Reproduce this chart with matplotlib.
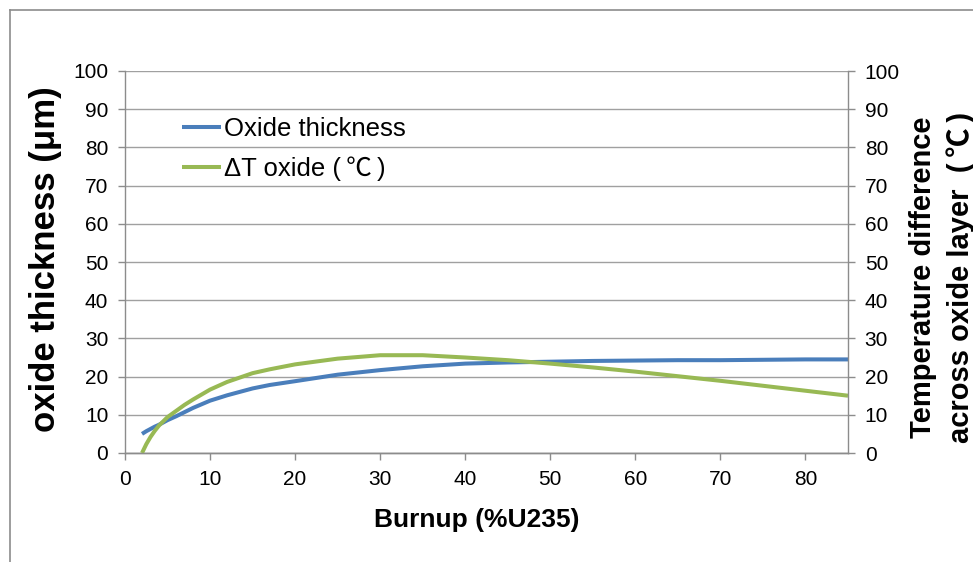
import matplotlib
matplotlib.use("Agg")
import matplotlib.pyplot as plt
from matplotlib.lines import Line2D
import numpy as np

plt.rcParams['font.family'] = ['Liberation Sans', 'Noto Sans CJK SC', 'DejaVu Sans']

# data
burnup = [2, 2.5, 3, 3.5, 4, 5, 6, 7, 8, 10, 12, 15, 17, 20, 25, 30, 35, 40, 45, 50, 55, 60, 65, 70, 75, 80, 85]
oxide_thickness = [5.0, 5.7, 6.3, 6.9, 7.4, 8.6, 9.6, 10.7, 11.8, 13.7, 15.1, 16.9, 17.8, 18.8, 20.5, 21.7,
                   22.7, 23.4, 23.7, 23.9, 24.1, 24.2, 24.3, 24.3, 24.4, 24.5, 24.5]
delta_t_oxide = [0.0, 2.3, 4.2, 5.8, 7.2, 9.4, 11.0, 12.6, 14.0, 16.6, 18.6, 20.9, 21.9, 23.2, 24.7, 25.6,
                 25.6, 25.0, 24.3, 23.4, 22.4, 21.3, 20.1, 18.9, 17.6, 16.3, 15.0]
x_ticks = [0, 10, 20, 30, 40, 50, 60, 70, 80]
y_ticks = [0, 10, 20, 30, 40, 50, 60, 70, 80, 90, 100]

blue = '#4a7ebb'
green = '#98b954'
grey = '#8c8c8c'

W, H = 973, 562
fig = plt.figure(figsize=(W / 100, H / 100), dpi=100)
ax1 = fig.add_axes([125 / W, 1 - 453 / H, 723 / W, 382 / H])
ax2 = ax1.twinx()

l1, = ax1.plot(burnup, oxide_thickness, color=blue, linewidth=2.9, solid_capstyle='butt')
l2, = ax2.plot(burnup, delta_t_oxide, color=green, linewidth=2.9, solid_capstyle='butt')

for ax in (ax1, ax2):
    ax.set_xlim(0, 85)
    ax.set_ylim(0, 100)
    ax.set_yticks(y_ticks)
    ax.spines['top'].set_visible(False)
    for s in ('left', 'right', 'bottom'):
        ax.spines[s].set_color(grey)
        ax.spines[s].set_linewidth(1.0)
    ax.tick_params(axis='both', direction='out', length=5, width=1.0, color=grey,
                   labelsize=15, pad=7, labelcolor='black')
ax1.set_xticks(x_ticks)
ax1.yaxis.grid(True, color='#a0a0a0', linewidth=1.0)
ax1.set_axisbelow(True)
ax2.spines['left'].set_visible(False)
ax1.spines['right'].set_visible(False)

fig.text(46 / W, 1 - 259 / H, 'oxide thickness (μm)', rotation=90, ha='center', va='center',
         fontsize=25, fontweight='bold')
fig.text(942 / W, 1 - 277 / H, 'Temperature difference\nacross oxide layer  (\u2009℃\u2009)', rotation=90,
         ha='center', va='center', fontsize=21, fontweight='bold', linespacing=1.38)
fig.text(477 / W, 1 - 520 / H, 'Burnup (%U235)', ha='center', va='center',
         fontsize=19, fontweight='bold')

ax1.legend([l1, l2], ['Oxide thickness', 'ΔT oxide (\u2009℃\u2009)'], loc='upper left',
           bbox_to_anchor=(182 / W, 1 - 117 / H), bbox_transform=fig.transFigure,
           frameon=False, fontsize=18.5, handlelength=1.5, handletextpad=0.15,
           labelspacing=0.6, borderpad=0, borderaxespad=0)

# outer chart border (only top and left visible in the crop)
fig.add_artist(Line2D([10 / W, 10 / W], [0, 1 - 10 / H], transform=fig.transFigure, color=grey, linewidth=1.2))
fig.add_artist(Line2D([10 / W, 1], [1 - 10 / H, 1 - 10 / H], transform=fig.transFigure, color=grey, linewidth=1.2))

fig.savefig('out.png', dpi=100)
